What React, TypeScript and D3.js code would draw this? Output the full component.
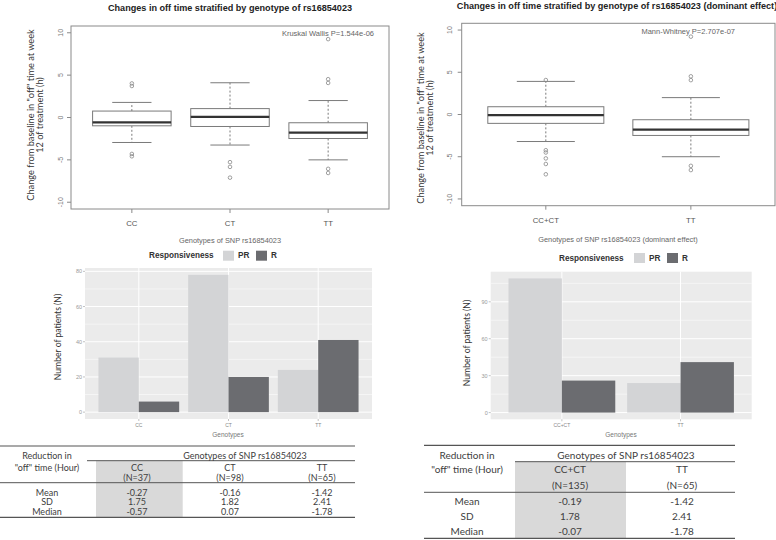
import React from "react";
import * as d3 from "d3";

// ---------- Box plot data ----------
const genotypesA = ["CC", "CT", "TT"];
const boxLowA = [-2.95, -3.25, -5.0];
const boxQ1A = [-0.98, -1.06, -2.48];
const boxMedianA = [-0.57, 0.07, -1.78];
const boxQ3A = [0.76, 1.05, -0.62];
const boxHighA = [1.78, 4.1, 2.0];
const outliersA = [
  [3.72, 4.02, -4.3, -4.58],
  [-5.27, -5.83, -7.1],
  [9.25, 4.52, 4.08, -6.06, -6.55],
];

const genotypesB = ["CC+CT", "TT"];
const boxLowB = [-3.2, -5.0];
const boxQ1B = [-1.05, -2.48];
const boxMedianB = [-0.07, -1.78];
const boxQ3B = [0.92, -0.62];
const boxHighB = [3.92, 2.0];
const outliersB = [
  [4.08, -4.23, -4.5, -5.2, -5.86, -7.08],
  [9.22, 4.52, 4.07, -6.08, -6.58],
];

const boxYTicks = [-10, -5, 0, 5, 10];
const boxYLimits = [-10, 10];

// ---------- Bar chart data ----------
const responseLevels = ["PR", "R"];
const barGenotypesA = ["CC", "CT", "TT"];
const countPRA = [31, 78, 24];
const countRA = [6, 20, 41];
const barTicksA = [0, 20, 40, 60, 80];

const barGenotypesB = ["CC+CT", "TT"];
const countPRB = [109, 24];
const countRB = [26, 41];
const barTicksB = [0, 30, 60, 90];

// ---------- Table data ----------
const tableColsA = ["CC", "CT", "TT"];
const tableNA = [37, 98, 65];
const tableMeanA = ["-0.27", "-0.16", "-1.42"];
const tableSDA = ["1.75", "1.82", "2.41"];
const tableMedianA = ["-0.57", "0.07", "-1.78"];

const tableColsB = ["CC+CT", "TT"];
const tableNB = [135, 65];
const tableMeanB = ["-0.19", "-1.42"];
const tableSDB = ["1.78", "2.41"];
const tableMedianB = ["-0.07", "-1.78"];

const ARIAL = "'Liberation Sans', Arial, sans-serif";
const CALIBRI = "Lato, 'Open Sans', sans-serif";
const PR_COLOR = "#d3d4d6";
const R_COLOR = "#6b6c70";

function BoxPanel(p: any) {
  const { left, right, top, bottom, cats, low, q1, med, q3, high, outs } = p;
  const n = cats.length;
  const yr = boxYLimits[1] - boxYLimits[0];
  const y = d3
    .scaleLinear()
    .domain([boxYLimits[0] - 0.04 * yr, boxYLimits[1] + 0.04 * yr])
    .range([bottom, top]);
  const pad = 0.04 * n;
  const x = d3.scaleLinear().domain([0.5 - pad, n + 0.5 + pad]).range([left, right]);
  const unit = x(1) - x(0);
  const bw = 0.8 * unit;
  const sw = 0.4 * unit;
  const stroke = "#7a7a7a";
  return (
    <g>
      <text x={p.titleX} y={p.titleY} textAnchor="middle" fontFamily={ARIAL} fontWeight="bold" fontSize={9.1} fill="#222">
        {p.title}
      </text>
      <rect x={left} y={top} width={right - left} height={bottom - top} fill="none" stroke="#8a8a8a" strokeWidth={1} />
      {boxYTicks.map((t) => (
        <g key={t}>
          <line x1={left} x2={left - 4} y1={y(t)} y2={y(t)} stroke="#8a8a8a" />
          <text
            transform={`translate(${p.yTickX},${y(t)}) rotate(-90)`}
            textAnchor="middle"
            dominantBaseline="central"
            fontFamily={ARIAL}
            fontSize={7}
            fill="#777"
          >
            {t}
          </text>
        </g>
      ))}
      <text
        transform={`translate(${p.yTitleX},${p.yTitleY}) rotate(-90)`}
        textAnchor="middle"
        dominantBaseline="central"
        fontFamily={CALIBRI}
        fontSize={9.2}
        fill="#333"
      >
        <tspan x={0} dy={0}>Change from baseline in "off" time at week</tspan>
        <tspan x={0} dy={9.3}>12 of treatment (h)</tspan>
      </text>
      {cats.map((c: string, i: number) => {
        const cx = x(i + 1);
        return (
          <g key={c}>
            <line x1={cx} x2={cx} y1={bottom} y2={bottom + 4} stroke="#8a8a8a" />
            <text x={cx} y={p.xLabelY} textAnchor="middle" dominantBaseline="central" fontFamily={ARIAL} fontSize={7.8} fill="#555">
              {c}
            </text>
            <line x1={cx} x2={cx} y1={y(q3[i])} y2={y(high[i])} stroke={stroke} strokeDasharray="2,2" />
            <line x1={cx} x2={cx} y1={y(q1[i])} y2={y(low[i])} stroke={stroke} strokeDasharray="2,2" />
            <line x1={cx - sw / 2} x2={cx + sw / 2} y1={y(high[i])} y2={y(high[i])} stroke={stroke} />
            <line x1={cx - sw / 2} x2={cx + sw / 2} y1={y(low[i])} y2={y(low[i])} stroke={stroke} />
            <rect x={cx - bw / 2} y={y(q3[i])} width={bw} height={y(q1[i]) - y(q3[i])} fill="#fff" stroke={stroke} />
            <line x1={cx - bw / 2} x2={cx + bw / 2} y1={y(med[i])} y2={y(med[i])} stroke="#333" strokeWidth={2.2} />
            {outs[i].map((o: number, k: number) => (
              <circle key={k} cx={cx} cy={y(o)} r={1.8} fill="none" stroke="#888" strokeWidth={0.8} />
            ))}
          </g>
        );
      })}
      <text x={p.xTitleX} y={p.xTitleY} textAnchor="middle" dominantBaseline="central" fontFamily={ARIAL} fontSize={7.4} fill="#666">
        {p.xTitle}
      </text>
      <text x={p.pX} y={p.pY} textAnchor="end" dominantBaseline="central" fontFamily={ARIAL} fontSize={7.5} fill="#666">
        {p.pText}
      </text>
    </g>
  );
}

function BarPanel(p: any) {
  const { left, right, top, bottom, cats, pr, r, ticks } = p;
  const n = cats.length;
  const ymax = d3.max([...pr, ...r]) as number;
  const y = d3.scaleLinear().domain([-0.05 * ymax, 1.05 * ymax]).range([bottom, top]);
  const x = d3.scaleLinear().domain([0.4, n + 0.6]).range([left, right]);
  const unit = x(1) - x(0);
  const half = 0.45 * unit;
  const step = ticks[1] - ticks[0];
  const minor = d3.range(step / 2, 1.05 * ymax, step);
  const L = p.legend;
  return (
    <g>
      <rect x={left} y={top} width={right - left} height={bottom - top} fill="#ebebeb" />
      {minor.map((m: number) => (
        <line key={"m" + m} x1={left} x2={right} y1={y(m)} y2={y(m)} stroke="#fff" strokeWidth={0.5} />
      ))}
      {ticks.map((t: number) => (
        <line key={"g" + t} x1={left} x2={right} y1={y(t)} y2={y(t)} stroke="#fff" strokeWidth={1} />
      ))}
      {cats.map((c: string, i: number) => (
        <line key={"v" + c} x1={x(i + 1)} x2={x(i + 1)} y1={top} y2={bottom} stroke="#fff" strokeWidth={1} />
      ))}
      {cats.map((c: string, i: number) => {
        const cx = x(i + 1);
        return (
          <g key={c}>
            <rect x={cx - half} y={y(pr[i])} width={half} height={y(0) - y(pr[i])} fill={PR_COLOR} />
            <rect x={cx} y={y(r[i])} width={half} height={y(0) - y(r[i])} fill={R_COLOR} />
            <line x1={cx} x2={cx} y1={bottom} y2={bottom + 2} stroke="#999" strokeWidth={0.6} />
            <text x={cx} y={p.xLabelY} textAnchor="middle" dominantBaseline="central" fontFamily={ARIAL} fontSize={5} fill="#888">
              {c}
            </text>
          </g>
        );
      })}
      {ticks.map((t: number) => (
        <g key={"t" + t}>
          <line x1={left - 2} x2={left} y1={y(t)} y2={y(t)} stroke="#999" strokeWidth={0.6} />
          <text x={left - 3} y={y(t)} textAnchor="end" dominantBaseline="central" fontFamily={ARIAL} fontSize={5.5} fill="#999">
            {t}
          </text>
        </g>
      ))}
      <text
        transform={`translate(${p.yTitleX},${p.yTitleY}) rotate(-90)`}
        textAnchor="middle"
        dominantBaseline="central"
        fontFamily={CALIBRI}
        fontSize={8.6}
        fill="#333"
      >
        Number of patients (N)
      </text>
      <text x={p.xTitleX} y={p.xTitleY} textAnchor="middle" dominantBaseline="central" fontFamily={ARIAL} fontSize={6.5} fill="#777">
        Genotypes
      </text>
      <text x={L.x} y={L.y} dominantBaseline="central" fontFamily={ARIAL} fontWeight="bold" fontSize={8.2} fill="#333">
        Responsiveness
      </text>
      {responseLevels.map((lv, k) => (
        <g key={lv}>
          <rect x={L.sw[k]} y={L.y - 5} width={11} height={10} fill={k === 0 ? PR_COLOR : R_COLOR} />
          <text x={L.sw[k] + 15} y={L.y} dominantBaseline="central" fontFamily={ARIAL} fontWeight="bold" fontSize={8.2} fill="#333">
            {lv}
          </text>
        </g>
      ))}
    </g>
  );
}

function StatTable(p: any) {
  const { x0, x1, sub0, shade1, rows, cols, colX, ns, mean, sd, median, fs, labelX } = p;
  const fill = "#404040";
  const common = { fontFamily: CALIBRI, fontSize: fs, fill, dominantBaseline: "central" as const, textAnchor: "middle" as const };
  return (
    <g>
      <rect x={sub0 + (p.shadeInset || 0)} y={rows.subRule} width={shade1 - sub0 - (p.shadeInset || 0)} height={rows.bottom - rows.subRule} fill="#d9d9d9" />
      <line x1={x0} x2={x1} y1={rows.top} y2={rows.top} stroke="#555" strokeWidth={1.2} />
      <line x1={sub0} x2={x1} y1={rows.subRule} y2={rows.subRule} stroke="#555" strokeWidth={1} />
      <line x1={x0} x2={x1} y1={rows.midRule} y2={rows.midRule} stroke="#555" strokeWidth={1} />
      <line x1={x0} x2={x1} y1={rows.bottom} y2={rows.bottom} stroke="#555" strokeWidth={1.2} />
      <text x={labelX} y={rows.h1} {...common}>Reduction in</text>
      <text x={labelX} y={rows.h2} {...common}>"off" time (Hour)</text>
      <text x={p.groupX} y={rows.h1} {...common}>Genotypes of SNP rs16854023</text>
      {cols.map((c: string, i: number) => (
        <g key={c}>
          <text x={colX[i]} y={rows.h2} {...common}>{c}</text>
          <text x={colX[i]} y={rows.h3} {...common}>{`(N=${ns[i]})`}</text>
          <text x={colX[i]} y={rows.r1} {...common}>{mean[i]}</text>
          <text x={colX[i]} y={rows.r2} {...common}>{sd[i]}</text>
          <text x={colX[i]} y={rows.r3} {...common}>{median[i]}</text>
        </g>
      ))}
      <text x={labelX} y={rows.r1} {...common}>Mean</text>
      <text x={labelX} y={rows.r2} {...common}>SD</text>
      <text x={labelX} y={rows.r3} {...common}>Median</text>
    </g>
  );
}

export default function App() {
  return (
    <div style={{ position: "absolute", left: 0, top: 0, width: 776, height: 540, background: "#fff" }}>
      <svg width={776} height={540} viewBox="0 0 776 540" style={{ display: "block" }}>
        <rect width={776} height={540} fill="#fff" />
        <BoxPanel
          left={71} right={389} top={26} bottom={209}
          cats={genotypesA} low={boxLowA} q1={boxQ1A} med={boxMedianA} q3={boxQ3A} high={boxHighA} outs={outliersA}
          title="Changes in off time stratified by genotype of rs16854023" titleX={230} titleY={11}
          pText="Kruskal Wallis P=1.544e-06" pX={374} pY={33}
          xTitle="Genotypes of SNP rs16854023" xTitleX={230} xTitleY={240} xLabelY={223}
          yTickX={60} yTitleX={30} yTitleY={115}
        />
        <BoxPanel
          left={461.7} right={775} top={23.3} bottom={205.7}
          cats={genotypesB} low={boxLowB} q1={boxQ1B} med={boxMedianB} q3={boxQ3B} high={boxHighB} outs={outliersB}
          title="Changes in off time stratified by genotype of rs16854023 (dominant effect)" titleX={617} titleY={9}
          pText="Mann-Whitney P=2.707e-07" pX={735} pY={31}
          xTitle="Genotypes of SNP rs16854023 (dominant effect)" xTitleX={618} xTitleY={239} xLabelY={220}
          yTickX={449} yTitleX={420} yTitleY={118}
        />
        <BarPanel
          left={85} right={372} top={268} bottom={419}
          cats={barGenotypesA} pr={countPRA} r={countRA} ticks={barTicksA}
          xLabelY={424.7} xTitleX={228} xTitleY={434} yTitleX={58} yTitleY={337}
          legend={{ x: 149, y: 255.7, sw: [223, 256] }}
        />
        <BarPanel
          left={490.7} right={751.7} top={271.7} bottom={419.3}
          cats={barGenotypesB} pr={countPRB} r={countRB} ticks={barTicksB}
          xLabelY={425} xTitleX={621} xTitleY={434} yTitleX={467} yTitleY={343}
          legend={{ x: 559, y: 258, sw: [634, 667] }}
        />
        <StatTable
          x0={0} x1={355} sub0={87} shade1={182.7} shadeInset={9} labelX={47} groupX={245}
          cols={tableColsA} colX={[137, 230, 322]} ns={tableNA}
          mean={tableMeanA} sd={tableSDA} median={tableMedianA} fs={9}
          rows={{ top: 446, h1: 455.7, subRule: 460.7, h2: 467, h3: 477.7, midRule: 482.7, r1: 492, r2: 501.7, r3: 511.7, bottom: 517.3 }}
        />
        <StatTable
          x0={424} x1={735} sub0={515} shade1={626} shadeInset={0} labelX={467} groupX={626}
          cols={tableColsB} colX={[570, 682]} ns={tableNB}
          mean={tableMeanB} sd={tableSDB} median={tableMedianB} fs={10}
          rows={{ top: 445.3, h1: 455, subRule: 461.7, h2: 469.3, h3: 485, midRule: 492.3, r1: 500.7, r2: 516, r3: 531, bottom: 538.3 }}
        />
      </svg>
    </div>
  );
}
